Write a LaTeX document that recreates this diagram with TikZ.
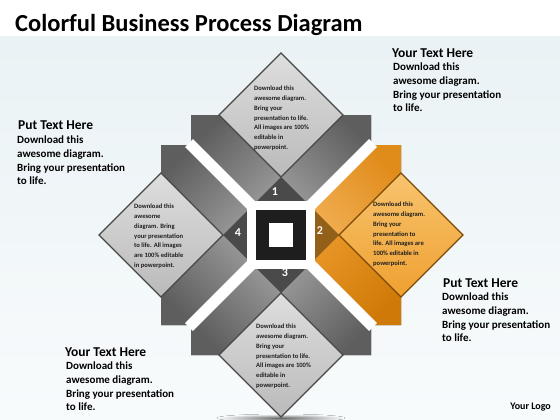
\documentclass[tikz,border=0pt]{standalone}
\usepackage{fontspec}
\setmainfont{Carlito}

\definecolor{bgtop}{HTML}{EAF2F5}
\definecolor{bgbottom}{HTML}{F8FBFC}
\definecolor{armdark}{HTML}{5E5E5E}
\definecolor{armlight}{HTML}{A0A0A0}
\definecolor{orangeouter}{HTML}{E08C1A}
\definecolor{orangeinner}{HTML}{F4B25A}
\definecolor{orangelowout}{HTML}{CF7A08}
\definecolor{orangelowin}{HTML}{EC9A2C}
\definecolor{tipgray}{HTML}{4A4A4A}
\definecolor{tiporange}{HTML}{93601A}
\definecolor{hubblack}{HTML}{1E1E1E}

\tikzset{
	grayband/.style={top color=armdark,bottom color=armlight},
	orangeup/.style={top color=orangeouter,bottom color=orangeinner},
	orangelow/.style={top color=orangelowout,bottom color=orangelowin},
	graydiamond/.style={top color=black!13,bottom color=black!27,draw=black!72,line width=1.1pt,line join=miter},
	orangediamond/.style={top color={rgb,255:red,248;green,196;blue,110},bottom color={rgb,255:red,239;green,160;blue,49},draw={rgb,255:red,124;green,74;blue,6},line width=1.1pt},
	gap/.style={white,line width=11pt},
	titletext/.style={anchor=base west,inner sep=0pt,font=\bfseries\fontsize{24.5}{28}\selectfont},
	blurbhead/.style={anchor=base west,inner sep=0pt,font=\bfseries\fontsize{13.5}{16}\selectfont},
	blurb/.style={anchor=north west,inner sep=0pt,align=left,font=\bfseries\fontsize{11}{13.7}\selectfont},
	dtext/.style={anchor=north west,inner sep=0pt,align=left,text=black!88,font=\bfseries\fontsize{6.6}{9.9}\selectfont},
	stepnum/.style={text=white,inner sep=0pt,font=\bfseries\fontsize{12}{12}\selectfont},
}

% one arm: rotation, band style (left half), band style (right half), tip colour
\newcommand\armbands[4]{%
	\begin{scope}[shift={(C)},rotate=#1]
		\fill[#2,shading angle=45+#1] (0,0) -- (-90,-90) -- (-90,-120) -- (0,-120) -- cycle;
		\fill[#3,shading angle=-45+#1] (0,0) -- (90,-90) -- (90,-120) -- (0,-120) -- cycle;
		\fill[#4] (-25,-33) -- (25,-33) -- (0,-58) -- cycle;
	\end{scope}}
\newcommand\armdiamond[2]{%
	\begin{scope}[shift={(C)},rotate=#1]
		\draw[#2] (0,-182) -- (62,-120) -- (0,-58) -- (-62,-120) -- cycle;
	\end{scope}}

\begin{document}
\begin{tikzpicture}[x=1pt,y=-1pt]
	\useasboundingbox (0,0) rectangle (560,420);
	\fill[white] (0,0) rectangle (560,37);
	\fill[top color=bgtop,bottom color=bgbottom] (0,37) rectangle (560,420);
	\node[titletext] (title) at (15,31.5) {Colorful Business Process Diagram};
	\coordinate (C) at (281,235);
	\fill[inner color=black!60,outer color=bgbottom] (281,418) ellipse (64 and 4);
	\armbands{0}{grayband}{grayband}{tipgray}
	\armbands{-90}{orangeup}{orangelow}{tiporange}
	\armbands{180}{grayband}{grayband}{tipgray}
	\armbands{90}{grayband}{grayband}{tipgray}
	\draw[gap] ([shift={(-92,-92)}]C) -- ([shift={(92,92)}]C);
	\draw[gap] ([shift={(92,-92)}]C) -- ([shift={(-92,92)}]C);
	\fill[white] ([shift={(-34,-34)}]C) rectangle ([shift={(34,34)}]C);
	\fill[hubblack] ([shift={(-25,-25)}]C) rectangle ([shift={(25,25)}]C);
	\fill[white] ([shift={(-12,-12)}]C) rectangle ([shift={(12,12)}]C);
	\armdiamond{0}{graydiamond}
	\armdiamond{-90}{orangediamond}
	\armdiamond{180}{graydiamond}
	\armdiamond{90}{graydiamond}
	\node[stepnum] (n1) at (275,192) {1};
	\node[stepnum] (n2) at (320,231) {2};
	\node[stepnum] (n3) at (285,273) {3};
	\node[stepnum] (n4) at (238,233) {4};
	\node[dtext] (t1) at (254,85.5) {Download this\\awesome diagram.\\Bring your\\presentation to life.\\All images are 100\%\\editable in\\powerpoint.};
	\node[dtext] (t2) at (373,201.5) {Download this\\awesome diagram.\\Bring your\\presentation to\\life. All images are\\100\% editable in\\powerpoint.};
	\node[dtext] (t3) at (256,323.5) {Download this\\awesome diagram.\\Bring your\\presentation to life.\\All images are 100\%\\editable in\\powerpoint.};
	\node[dtext] (t4) at (134,203.5) {Download this\\awesome\\diagram. Bring\\your presentation\\to life.  All images\\are 100\% editable\\in powerpoint.};
	\node[blurbhead] (h1) at (392,57.3) {Your Text Here};
	\node[blurb] (b1) at (393,62.8) {Download this\\awesome diagram.\\Bring your presentation\\to life.};
	\node[blurbhead] (h4) at (18,129.3) {Put Text Here};
	\node[blurb] (b4) at (17,135.8) {Download this\\awesome diagram.\\Bring your presentation\\to life.};
	\node[blurbhead] (h2) at (443,287.3) {Put Text Here};
	\node[blurb] (b2) at (442,292.8) {Download this\\awesome diagram.\\Bring your presentation\\to life.};
	\node[blurbhead] (h3) at (65,356.3) {Your Text Here};
	\node[blurb] (b3) at (66,361.8) {Download this\\awesome diagram.\\Bring your presentation\\to life.};
	\node[anchor=base east,inner sep=0pt,font=\bfseries\fontsize{10}{12}\selectfont] (logo) at (551,409.5) {Your Logo};
\end{tikzpicture}
\end{document}
